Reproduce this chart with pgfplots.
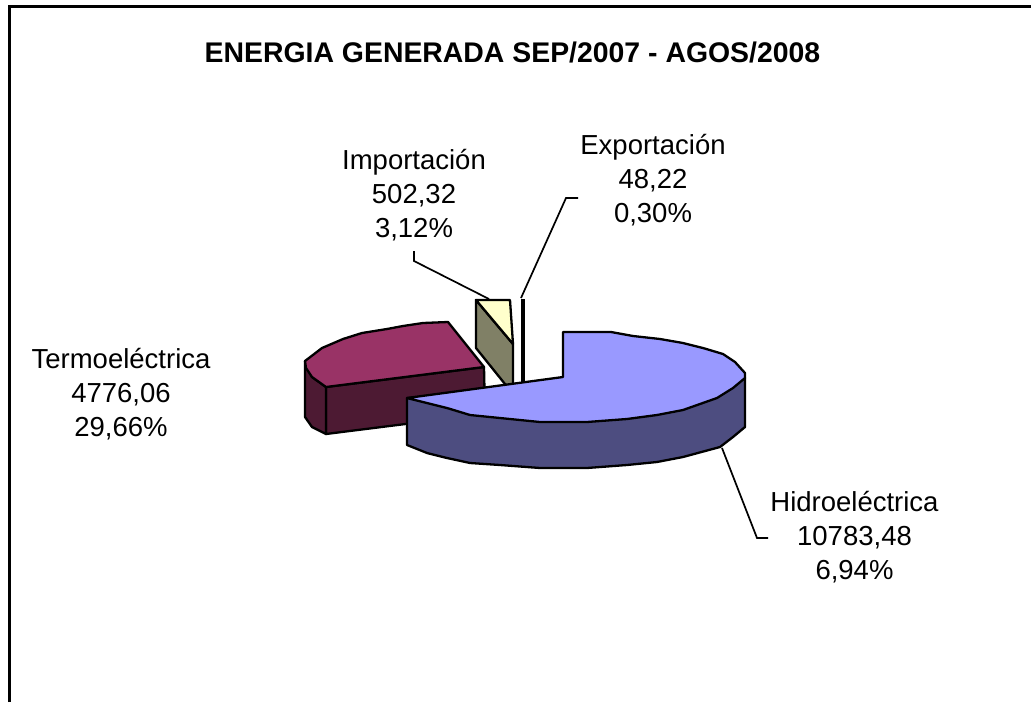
\documentclass[border=0pt]{standalone}
\usepackage{pgfplots}
\pgfplotsset{compat=1.18}
\usepackage{fontspec}
\setmainfont{Liberation Sans}
\definecolor{hT}{HTML}{9999FF}\definecolor{hS}{HTML}{4D4D80}
\definecolor{tT}{HTML}{993366}\definecolor{tS}{HTML}{4D1A33}
\definecolor{iT}{HTML}{FFFFCC}\definecolor{iS}{HTML}{808066}
\begin{document}
\begin{tikzpicture}
\begin{axis}[scale only axis,width=1031pt,height=702pt,xmin=0,xmax=1031,ymin=0,ymax=702,y dir=reverse,hide axis,clip=true]
\addplot[draw=none,forget plot] coordinates {(0,0)(1031,0)(1031,702)(0,702)} -- cycle;
% frame
\addplot[black,line width=3pt,forget plot] coordinates {(9,702)(9,6)(1031,6)};
% thermo
\addplot[fill=tS,draw=black,line width=2.3pt,line join=round] coordinates {(326,387)(484,367)(485,414)(326,434)} -- cycle;
\addplot[fill=tS,draw=black,line width=2.3pt,line join=round] coordinates {(305,361)(305,417)(312,427)(326,434)(326,387)(312,377)} -- cycle;
\addplot[fill=tT,draw=black,line width=2.3pt,line join=round] coordinates {(448,322)(423,323)(403,326)(387,329)(362,333)(343,339)(322,348)(305,361)(306,368)(312,377)(326,387)(484,367)} -- cycle;
% import
\addplot[fill=iS,draw=black,line width=2.3pt,line join=round] coordinates {(476,300)(513,344)(513,394)(476,348)} -- cycle;
\addplot[fill=iT,draw=black,line width=2.3pt,line join=round] coordinates {(476,300)(510,300)(513,344)} -- cycle;
% export
\addplot[fill=black,draw=black,line width=1pt] coordinates {(521.3,299)(524,299)(524,385)(521.3,385)} -- cycle;
% hydro
\addplot[fill=hS,draw=black,line width=2.3pt,line join=round] coordinates {(745,378)(745,427)(733,437)(720,447)(683,457)(657,462)(627,465)(587,468)(540,468)(500,465)(470,463)(447,458)(427,453)(407,445)(407,398)} -- cycle;
\addplot[fill=hT,draw=black,line width=2.3pt,line join=round] coordinates {(563,332)(611,332)(633,336)(660,339)(683,343)(703,348)(723,354)(735,362)(745,373)(745,378)(733,388)(717,398)(683,410)(657,415)(627,419)(587,422)(540,422)(500,418)(470,415)(447,408)(427,403)(407,398)(563,377)} -- cycle;
% leaders
\addplot[black,line width=1.7pt] coordinates {(414,251)(414,261)(489,299)};
\addplot[black,line width=1.7pt] coordinates {(578,198)(566,198)(521,298)};
\addplot[black,line width=1.7pt] coordinates {(722,448)(757,538)(768,538)};
% texts
\node[font=\bfseries\fontsize{28.4}{30}\selectfont,inner sep=0pt] at (axis cs:512.5,52) {ENERGIA GENERADA SEP/2007 - AGOS/2008};
\node[align=center,font=\fontsize{27.5}{34}\selectfont,inner sep=0pt] at (axis cs:414,195) {Importación\\502,32\\3,12\%};
\node[align=center,font=\fontsize{27.5}{34}\selectfont,inner sep=0pt] at (axis cs:653,180) {Exportación\\48,22\\0,30\%};
\node[align=center,font=\fontsize{27.5}{34}\selectfont,inner sep=0pt] at (axis cs:121,394.5) {Termoeléctrica\\4776,06\\29,66\%};
\node[align=center,font=\fontsize{27.5}{34}\selectfont,inner sep=0pt] at (axis cs:854.5,537.5) {Hidroeléctrica\\10783,48\\6,94\%};
\end{axis}
\end{tikzpicture}
\end{document}
